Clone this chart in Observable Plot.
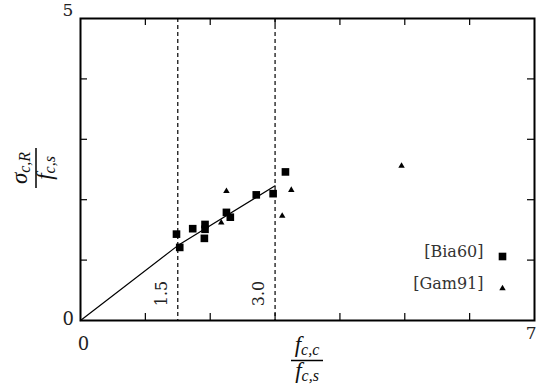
<!DOCTYPE html>
<html><head><meta charset="utf-8">
<script src="https://cdn.jsdelivr.net/npm/d3@7"></script>
<script src="https://cdn.jsdelivr.net/npm/@observablehq/plot@0.6"></script>
<style>body{margin:0;background:#fff} svg{display:block}</style>
</head><body><div id="chart"></div>
<script>
// Data
const bia60X = [1.48, 1.53, 1.73, 1.92, 1.92, 1.91, 2.25, 2.31, 2.71, 2.97, 3.16];
const bia60Y = [1.43, 1.21, 1.52, 1.59, 1.51, 1.36, 1.79, 1.71, 2.08, 2.10, 2.46];
const gam91X = [2.17, 2.25, 3.11, 3.25, 4.95];
const gam91Y = [1.62, 2.14, 1.73, 2.16, 2.56];
const fitX = [0, 1.5, 3.0];
const fitY = [0, 1.24, 2.23];
const limitsX = [1.5, 3.0];
const limitLabels = ["1.5", "3.0"];
const xTicks = [1, 2, 3, 4, 5, 6];
const yTicks = [1, 2, 3, 4];
const seriesNames = ["[Bia60]", "[Gam91]"];

const bia = bia60X.map((x, i) => ({x, y: bia60Y[i]}));
const gam = gam91X.map((x, i) => ({x, y: gam91Y[i]}));
const fit = fitX.map((x, i) => ({x, y: fitY[i]}));

const W = 536, H = 387, mT = 18, mB = 67, mL = 80, mR = 2;
const plotW = W - mL - mR, plotH = H - mT - mB;
const serif = "DejaVu Serif";
const txt = "#222";

const chart = Plot.plot({
  width: W, height: H,
  marginTop: mT, marginBottom: mB, marginLeft: mL, marginRight: mR,
  x: {domain: [0, 7], axis: null},
  y: {domain: [0, 5], axis: null},
  style: {fontFamily: serif, background: "#fff"},
  marks: [
    // inward ticks on all four sides
    Plot.tickX(xTicks, {x: d => d, insetTop: plotH - 7, stroke: "black", strokeWidth: 1.2}),
    Plot.tickX(xTicks, {x: d => d, insetBottom: plotH - 7, stroke: "black", strokeWidth: 1.2}),
    Plot.tickY(yTicks, {y: d => d, insetRight: plotW - 7, stroke: "black", strokeWidth: 1.2}),
    Plot.tickY(yTicks, {y: d => d, insetLeft: plotW - 7, stroke: "black", strokeWidth: 1.2}),
    // dashed limit lines
    Plot.ruleX(limitsX, {x: d => d, stroke: "black", strokeWidth: 1.2, strokeDasharray: "4,3"}),
    Plot.text(limitsX, {x: d => d, frameAnchor: "bottom", text: (d, i) => limitLabels[i], rotate: -90, dx: -11, dy: -27, fontSize: 16, fill: txt, fontFamily: serif}),
    // fit line
    Plot.line(fit, {x: "x", y: "y", stroke: "black", strokeWidth: 1.2}),
    // data
    Plot.dot(bia, {x: "x", y: "y", symbol: "square", r: 4.3, fill: "black", stroke: "none"}),
    Plot.dot(gam, {x: "x", y: "y", symbol: "triangle", r: 2.4, fill: "black", stroke: "none"}),
    // frame
    Plot.frame({stroke: "black", strokeWidth: 2}),
    // tick labels
    Plot.text([0], {y: d => d, frameAnchor: "left", text: d => String(d), dx: -18, dy: -1, fontSize: 18, fill: txt, fontFamily: serif}),
    Plot.text([5], {y: d => d, frameAnchor: "left", text: d => String(d), dx: -18, dy: -8, fontSize: 17, fill: txt, fontFamily: serif}),
    Plot.text([0], {x: d => d, frameAnchor: "bottom", text: d => String(d), dx: 3, dy: 29, fontSize: 18, fill: txt, fontFamily: serif}),
    Plot.text([7], {x: d => d, frameAnchor: "bottom", text: d => String(d), textAnchor: "end", dx: 2, dy: 18, fontSize: 17, fill: txt, fontFamily: serif}),
    // legend
    Plot.text([seriesNames[0]], {frameAnchor: "bottom-right", text: d => d, textAnchor: "end", dx: -51, dy: -64, fontSize: 16, fill: "#333", fontFamily: serif}),
    Plot.text([seriesNames[1]], {frameAnchor: "bottom-right", text: d => d, textAnchor: "end", dx: -51, dy: -32, fontSize: 16, fill: "#333", fontFamily: serif}),
    Plot.dot([seriesNames[0]], {frameAnchor: "bottom-right", symbol: "square", r: 4.3, fill: "black", stroke: "none", dx: -32, dy: -64}),
    Plot.dot([seriesNames[1]], {frameAnchor: "bottom-right", symbol: "triangle", r: 2.4, fill: "black", stroke: "none", dx: -32, dy: -32})
  ]
});

document.getElementById("chart").appendChild(chart);

// Axis labels as fractions
const svg = d3.select(chart);
const math = "Liberation Serif";
function frac(g, num, numSub, den, denSub, barHalf, numBase, denBase) {
  const n = g.append("text").attr("text-anchor", "middle").attr("y", numBase)
    .attr("font-family", math).attr("font-style", "italic").attr("font-size", 23).attr("fill", "#111");
  n.append("tspan").text(num);
  n.append("tspan").attr("dy", 3).attr("font-size", 16).text(numSub);
  g.append("line").attr("x1", -barHalf).attr("x2", barHalf).attr("y1", 0).attr("y2", 0)
    .attr("stroke", "black").attr("stroke-width", 1.5);
  const d = g.append("text").attr("text-anchor", "middle").attr("y", denBase)
    .attr("font-family", math).attr("font-style", "italic").attr("font-size", 23).attr("fill", "#111");
  d.append("tspan").text(den);
  d.append("tspan").attr("dy", 3).attr("font-size", 16).text(denSub);
}
const xc = mL + plotW * (3.5 / 7);
frac(svg.append("g").attr("transform", `translate(${xc},360.5)`), "f", "c,c", "f", "c,s", 16, -9, 17);
frac(svg.append("g").attr("transform", `translate(36,168) rotate(-90)`), "σ", "c,R", "f", "c,s", 20, -9, 16);
</script>
</body></html>
